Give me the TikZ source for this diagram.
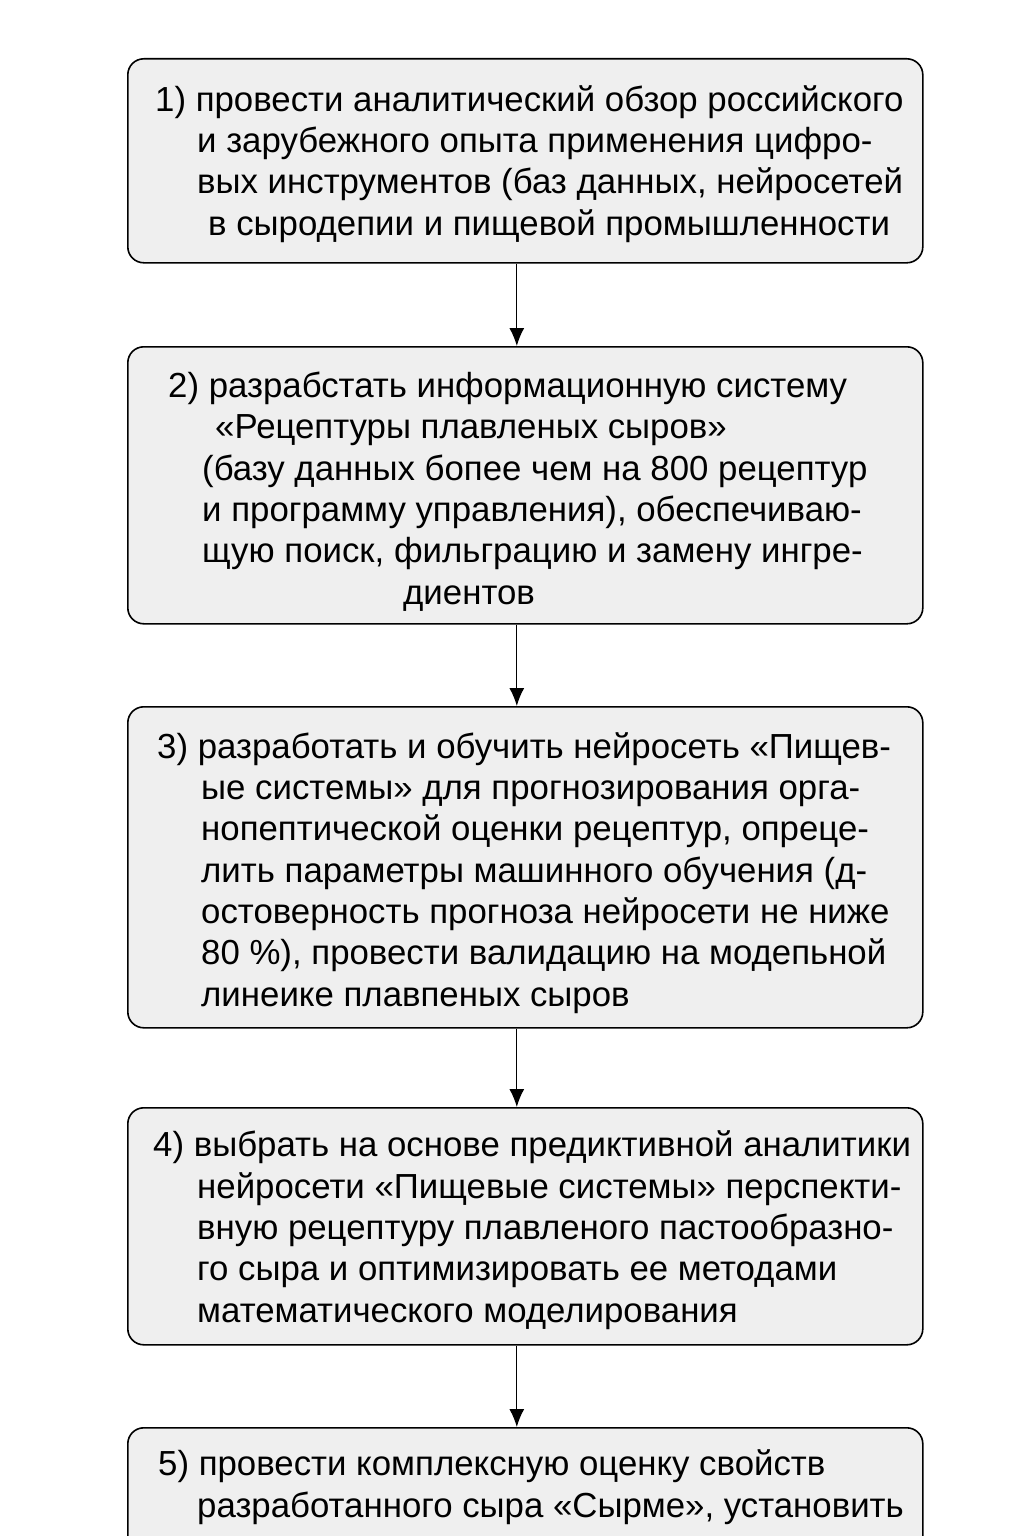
\documentclass[tikz,border=0pt]{standalone}
\usepackage{fontspec}
\setmainfont{Liberation Sans}
\usetikzlibrary{positioning,arrows.meta}
\definecolor{boxgray}{RGB}{239,239,239}

\tikzset{
  stage/.style={draw, line width=1.6pt, rounded corners=16pt, fill=boxgray,
    minimum width=795pt, inner sep=0pt, anchor=north west},
  stagetext/.style={anchor=base west, align=left, inner sep=0pt,
    font=\fontsize{34.8}{41.3}\selectfont},
  link/.style={line width=1.3pt, -{Latex[length=18pt,width=15pt]}}
}

\begin{document}
\begin{tikzpicture}[x=1pt,y=-1pt]
\clip (0,0) rectangle (1024,1536);
\fill[white] (0,0) rectangle (1024,1536);

% boxes
\node[stage, minimum height=204pt] (s1) at (127,58) {};
\node[stage, minimum height=277pt] (s2) at (127,346) {};
\node[stage, minimum height=321pt] (s3) at (127,706) {};
\node[stage, minimum height=237pt] (s4) at (127,1107) {};
\node[stage, minimum height=200pt] (s5) at (127,1427) {};

% texts (placed by the baseline of the last line)
\node[stagetext] (t1) at (155,235) {1) провести аналитический обзор российского\\
\hspace*{42pt}и зарубежного опыта применения цифро-\\
\hspace*{42pt}вых инструментов (баз данных, нейросетей\\
\hspace*{53pt}в сыродепии и пищевой промышленности};

\node[stagetext] (t2) at (168,604) {2) разрабстать информационную систему\\
\hspace*{47pt}«Рецептуры плавленых сыров»\\
\hspace*{34pt}(базу данных бопее чем на 800 рецептур\\
\hspace*{34pt}и программу управления), обеспечиваю-\\
\hspace*{34pt}щую поиск, фильграцию и замену ингре-\\
\hspace*{235pt}диентов};

\node[stagetext] (t3) at (157,1006) {3) разработать и обучить нейросеть «Пищев-\\
\hspace*{44pt}ые системы» для прогнозирования орга-\\
\hspace*{44pt}нопептической оценки рецептур, опреце-\\
\hspace*{44pt}лить параметры машинного обучения (д-\\
\hspace*{44pt}остоверность прогноза нейросети не ниже\\
\hspace*{44pt}80 \%), провести валидацию на модепьной\\
\hspace*{44pt}линеике плавпеных сыров};

\node[stagetext] (t4) at (153,1322) {4) выбрать на основе предиктивной аналитики\\
\hspace*{44pt}нейросети «Пищевые системы» перспекти-\\
\hspace*{44pt}вную рецептуру плавленого пастообразно-\\
\hspace*{44pt}го сыра и оптимизировать ее методами\\
\hspace*{44pt}математического моделирования};

\node[stagetext] (t5) at (158,1517) {5) провести комплексную оценку свойств\\
\hspace*{39pt}разработанного сыра «Сырме», установить};

% arrows
\draw[link] ([xshift=-8.5pt]s1.south) -- ([xshift=-8.5pt]s2.north);
\draw[link] ([xshift=-8.5pt]s2.south) -- ([xshift=-8.5pt]s3.north);
\draw[link] ([xshift=-8.5pt]s3.south) -- ([xshift=-8.5pt]s4.north);
\draw[link] ([xshift=-8.5pt]s4.south) -- ([xshift=-8.5pt]s5.north);
\end{tikzpicture}
\end{document}
